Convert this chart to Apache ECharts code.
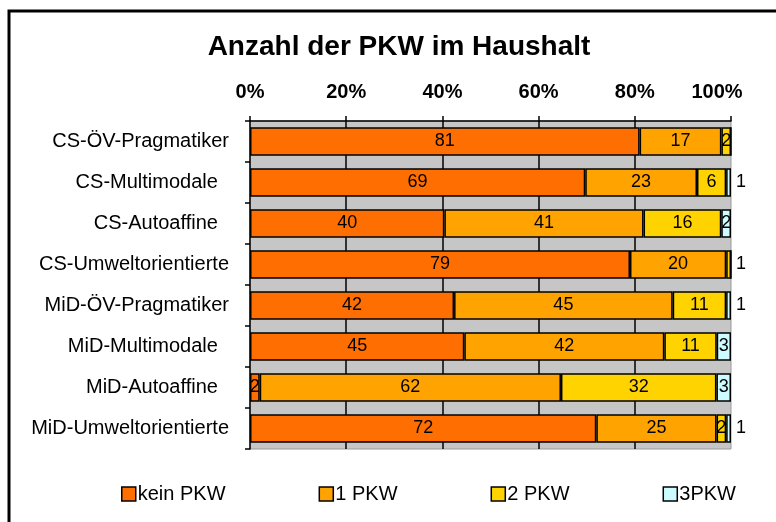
<!DOCTYPE html>
<html>
<head>
<meta charset="utf-8">
<script src="https://cdn.jsdelivr.net/npm/echarts@6/dist/echarts.min.js"></script>
<style>
html,body{margin:0;padding:0;background:#fff;}
#c{width:776px;height:522px;}
</style>
</head>
<body>
<div id="c"></div>
<script>
var categories = ['CS-ÖV-Pragmatiker','CS-Multimodale  ','CS-Autoaffine  ','CS-Umweltorientierte','MiD-ÖV-Pragmatiker','MiD-Multimodale  ','MiD-Autoaffine  ','MiD-Umweltorientierte'];
var seriesNames = ['kein PKW','1 PKW','2 PKW','3PKW'];
var keinPKW = [81, 69, 40, 79, 42, 45, 2, 72];
var einPKW  = [17, 23, 41, 20, 45, 42, 62, 25];
var zweiPKW = [2, 6, 16, 1, 11, 11, 32, 2];
var dreiPKW = [0, 1, 2, 0, 1, 3, 3, 1];
var tickLabels = ['0%','20%','40%','60%','80%','100%'];
var colors = ['#FF6E00','#FFA300','#FFD300','#CCFCFF'];

var raw = [keinPKW, einPKW, zweiPKW, dreiPKW];
var totals = categories.map(function(_, i){ return raw.reduce(function(s, a){ return s + a[i]; }, 0); });
var FONT = '"Liberation Sans", Arial, sans-serif';

var series = raw.map(function(arr, si){
  return {
    name: seriesNames[si],
    type: 'bar',
    stack: 'total',
    barCategoryGap: '30%',
    itemStyle: { color: colors[si], borderColor: '#000', borderWidth: 1.5 },
    label: {
      show: true,
      color: '#000',
      fontFamily: FONT,
      fontSize: 18,
      formatter: function(p){ return p.data.raw > 0 ? String(p.data.raw) : ''; }
    },
    data: arr.map(function(v, i){
      var item = { value: v / totals[i] * 100, raw: v };
      if (v === 1) { item.label = { position: 'right', distance: 5 }; }
      else { item.label = { position: 'inside' }; }
      return item;
    })
  };
});

var tickFont = { fontFamily: FONT, fontWeight: 'bold', fontSize: 20, color: '#000' };

var chart = echarts.init(document.getElementById('c'), null, { renderer: 'canvas' });
chart.setOption({
  animation: false,
  color: colors,
  title: {
    text: 'Anzahl der PKW im Haushalt',
    left: 394, top: 28, textAlign: 'center',
    textStyle: { fontFamily: FONT, fontWeight: 'bold', fontSize: 28, color: '#000' }
  },
  legend: {
    data: seriesNames,
    left: 116, top: 479,
    itemWidth: 14, itemHeight: 14, itemGap: 93,
    icon: 'rect',
    itemStyle: { borderColor: '#000', borderWidth: 1.5 },
    textStyle: { fontFamily: FONT, fontSize: 20, color: '#000', padding: [0,0,0,-3] }
  },
  grid: {
    left: 250, top: 121, width: 481, height: 328,
    show: true, backgroundColor: '#C6C6C6', borderColor: '#9a9a9a', borderWidth: 1
  },
  xAxis: {
    type: 'value', position: 'top', min: 0, max: 100, interval: 20,
    axisLine: { show: true, lineStyle: { color: '#000', width: 1.5 } },
    axisTick: { show: true, length: 5, lineStyle: { color: '#000', width: 1.5 } },
    splitLine: { show: true, showMinLine: false, showMaxLine: false, lineStyle: { color: '#000', width: 1.5 } },
    axisLabel: {
      margin: 19, color: '#000', fontFamily: FONT, fontWeight: 'bold', fontSize: 20,
      formatter: function(v){
        var t = tickLabels[Math.round(v / 20)];
        return v >= 100 ? '{r|' + t + '}' : t;
      },
      rich: {
        r: Object.assign({ padding: [0, 28, 0, 0] }, tickFont)
      }
    }
  },
  yAxis: {
    type: 'category', data: categories, inverse: true,
    axisLine: { show: true, lineStyle: { color: '#000', width: 1.5 } },
    axisTick: { show: true, length: 5, lineStyle: { color: '#000', width: 1.5 } },
    axisLabel: { margin: 21, color: '#000', fontFamily: FONT, fontSize: 20 }
  },
  graphic: [{
    type: 'rect', silent: true,
    shape: { x: 9, y: 11, width: 1000, height: 1000 },
    style: { fill: 'none', stroke: '#000', lineWidth: 3 }
  }],
  series: series
});
</script>
</body>
</html>
